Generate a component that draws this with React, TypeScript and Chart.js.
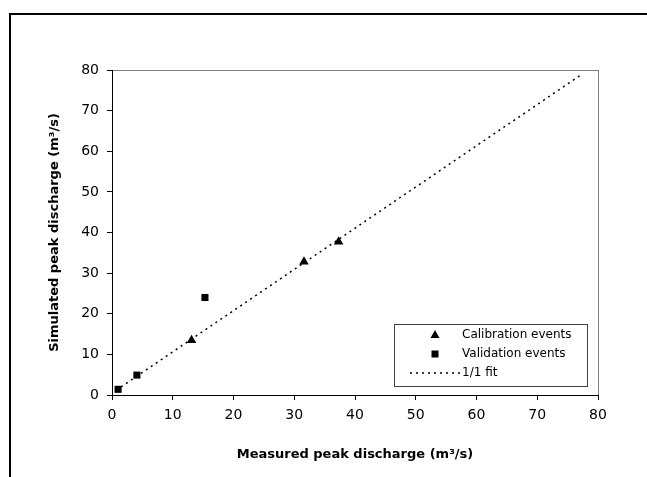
import React, { useEffect, useRef } from "react";
import { Chart, registerables } from "chart.js";

Chart.register(...registerables);

const calibX = [13.1, 31.6, 37.3];
const calibY = [13.5, 32.8, 37.7];
const validX = [1.0, 4.1, 15.3];
const validY = [1.4, 4.9, 24.0];
const fitX = [1.5, 77.2];
const fitY = [2.0, 78.8];
const seriesLabels = ["Calibration events", "Validation events", "1/1 fit"];
const xTitle = "Measured peak discharge (m³/s)";
const yTitle = "Simulated peak discharge (m³/s)";
const axisMin = 0;
const axisMax = 80;
const axisStep = 10;

const FONT = "'DejaVu Sans', 'Liberation Sans', Arial, sans-serif";

const toPts = (xs: number[], ys: number[]) => xs.map((x, i) => ({ x, y: ys[i] }));

const decorPlugin = {
  id: "decor",
  beforeDraw(chart: any) {
    const ctx = chart.ctx;
    const a = chart.chartArea;
    ctx.save();
    ctx.fillStyle = "#ffffff";
    ctx.fillRect(0, 0, chart.width, chart.height);
    // outer frame (top and left)
    ctx.fillStyle = "#000000";
    ctx.fillRect(9, 13, chart.width - 9, 2);
    ctx.fillRect(9, 13, 2, chart.height - 13);
    // plot area border
    ctx.strokeStyle = "#808080";
    ctx.lineWidth = 1;
    ctx.strokeRect(a.left + 0.5, a.top + 0.5, a.right - a.left, a.bottom - a.top);
    ctx.restore();
  },
  afterDraw(chart: any) {
    const ctx = chart.ctx;
    const a = chart.chartArea;
    ctx.save();
    // axis titles
    ctx.fillStyle = "#000000";
    ctx.font = `bold 13px ${FONT}`;
    ctx.textAlign = "center";
    ctx.textBaseline = "middle";
    ctx.fillText(xTitle, (a.left + a.right) / 2, 455);
    ctx.save();
    ctx.translate(55, (a.top + a.bottom) / 2);
    ctx.rotate(-Math.PI / 2);
    ctx.fillText(yTitle, 0, 0);
    ctx.restore();

    // legend
    const lx = 394, ly = 324, lw = 193, lh = 62;
    ctx.fillStyle = "#ffffff";
    ctx.fillRect(lx, ly, lw, lh);
    ctx.strokeStyle = "#404040";
    ctx.lineWidth = 1;
    ctx.strokeRect(lx + 0.5, ly + 0.5, lw, lh);
    const rows = [335, 354, 373];
    ctx.font = `12px ${FONT}`;
    ctx.textAlign = "left";
    ctx.textBaseline = "middle";
    chart.data.datasets.forEach((ds: any, i: number) => {
      const y = rows[i];
      ctx.fillStyle = "#000000";
      ctx.strokeStyle = "#000000";
      if (ds.showLine) {
        ctx.setLineDash([2, 4]);
        ctx.lineWidth = 1.5;
        ctx.beginPath();
        ctx.moveTo(410, y);
        ctx.lineTo(460, y);
        ctx.stroke();
        ctx.setLineDash([]);
      } else if (ds.pointStyle === "triangle") {
        ctx.beginPath();
        ctx.moveTo(435, y - 5);
        ctx.lineTo(439.5, y + 3);
        ctx.lineTo(430.5, y + 3);
        ctx.closePath();
        ctx.fill();
      } else {
        ctx.fillRect(431.5, y - 3.5, 7, 7);
      }
      ctx.fillText(ds.label, 462, y);
    });
    ctx.restore();
  },
};

export default function App() {
  const ref = useRef<HTMLCanvasElement | null>(null);
  useEffect(() => {
    if (!ref.current) return;
    const chart = new Chart(ref.current, {
      type: "scatter",
      data: {
        datasets: [
          {
            label: seriesLabels[0],
            data: toPts(calibX, calibY),
            pointStyle: "triangle",
            pointRadius: 5.5,
            backgroundColor: "#000000",
            borderColor: "#000000",
            borderWidth: 0,
            order: 1,
          },
          {
            label: seriesLabels[1],
            data: toPts(validX, validY),
            pointStyle: "rect",
            pointRadius: 5,
            backgroundColor: "#000000",
            borderColor: "#000000",
            borderWidth: 0,
            order: 1,
          },
          {
            label: seriesLabels[2],
            data: toPts(fitX, fitY),
            showLine: true,
            pointRadius: 0,
            borderColor: "#000000",
            borderWidth: 1.5,
            borderDash: [2, 4],
            order: 2,
          },
        ],
      } as any,
      options: {
        animation: false,
        responsive: false,
        maintainAspectRatio: false,
        layout: { padding: { left: 0, top: 70, right: 49, bottom: 0 } },
        plugins: { legend: { display: false }, tooltip: { enabled: false } },
        scales: {
          x: {
            type: "linear",
            min: axisMin,
            max: axisMax,
            ticks: {
              stepSize: axisStep,
              color: "#000000",
              font: { family: FONT, size: 14 },
              padding: 7,
              maxRotation: 0,
            },
            grid: { drawOnChartArea: false, color: "#000000", tickLength: 5, tickWidth: 1 },
            border: { color: "#000000", width: 1 },
            afterFit: (s: any) => { s.height = 82; },
          },
          y: {
            type: "linear",
            min: axisMin,
            max: axisMax,
            ticks: {
              stepSize: axisStep,
              color: "#000000",
              font: { family: FONT, size: 14 },
              padding: 8,
            },
            grid: { drawOnChartArea: false, color: "#000000", tickLength: 5, tickWidth: 1 },
            border: { color: "#000000", width: 1 },
            afterFit: (s: any) => { s.width = 112; },
          },
        },
      } as any,
      plugins: [decorPlugin],
    });
    return () => chart.destroy();
  }, []);
  return (
    <div style={{ position: "fixed", left: 0, top: 0, width: 647, height: 477, background: "#fff" }}>
      <canvas ref={ref} width={647} height={477} style={{ width: 647, height: 477, display: "block" }} />
    </div>
  );
}
